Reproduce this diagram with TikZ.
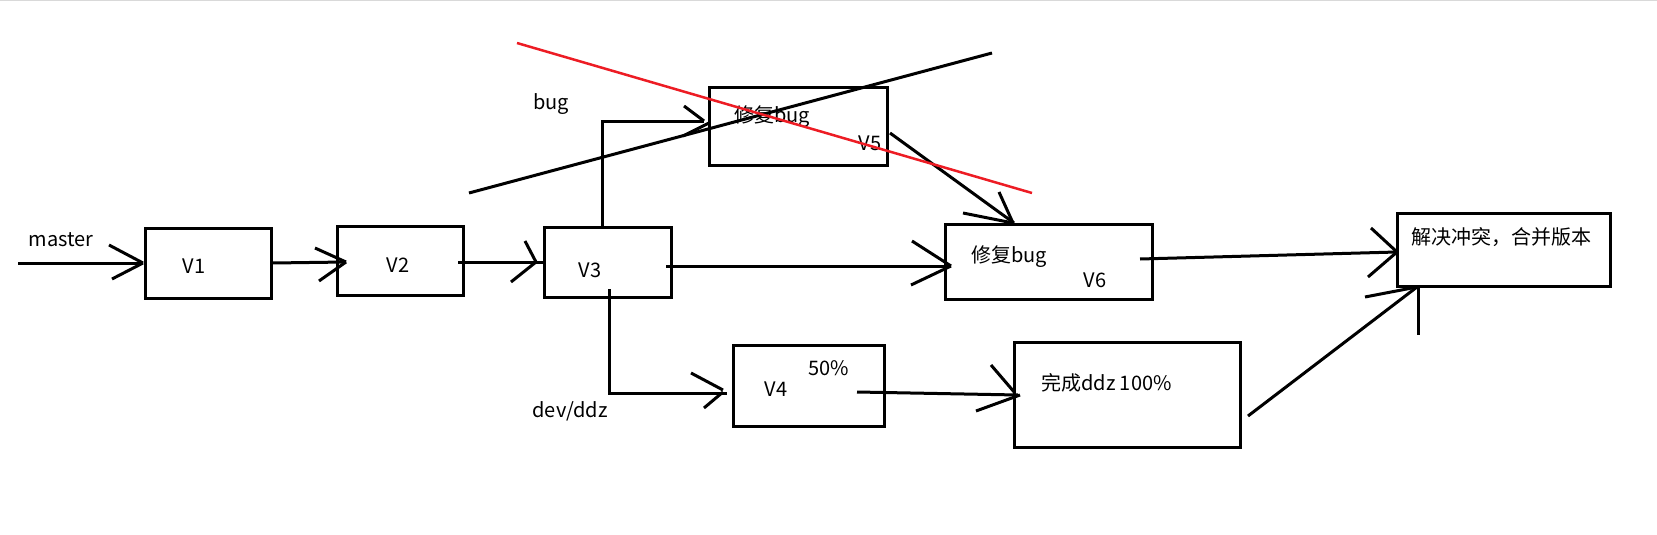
\documentclass[tikz,border=0pt]{standalone}
\usepackage{fontspec}
\setmainfont{Noto Sans CJK SC}
\begin{document}
\begin{tikzpicture}[x=1pt,y=-1pt,
  box/.style={draw, line width=3pt, inner sep=0pt},
  ln/.style={line width=3pt},
  txt/.style={inner sep=0pt, font=\fontsize{20}{24}\selectfont}]
\useasboundingbox (0,0) rectangle (1657,535);
\fill[white] (0,0) rectangle (1657,535);
\draw[line width=1.5pt, black!15] (0,0.75) -- (1657,0.75);

% boxes
\node[box, minimum width=126pt, minimum height=70pt] (v1) at (208,263) {};
\node[box, minimum width=126pt, minimum height=69pt] (v2) at (400,260.5) {};
\node[box, minimum width=127pt, minimum height=70pt] (v3) at (607.5,262) {};
\node[box, minimum width=178pt, minimum height=78pt] (v5) at (798,126) {};
\node[box, minimum width=207pt, minimum height=75pt] (v6) at (1048.5,261.5) {};
\node[box, minimum width=151pt, minimum height=81pt] (v4) at (808.5,385.5) {};
\node[box, minimum width=226pt, minimum height=105pt] (done) at (1127,394.5) {};
\node[box, minimum width=213pt, minimum height=73pt] (merge) at (1503.5,249.5) {};

% texts
\node[txt] (tmaster) at (61,240) {master};
\node[txt] (tv1) at (194,266) {V1};
\node[txt] (tv2) at (398,265) {V2};
\node[txt] (tv3) at (590,270) {V3};
\node[txt] (tbug) at (551,104) {bug};
\node[txt, anchor=west] (tfix5) at (734,117) {修复bug};
\node[txt] (tv5) at (870,143) {V5};
\node[txt, anchor=west] (tfix6) at (971,257) {修复bug};
\node[txt] (tv6) at (1095,280) {V6};
\node[txt] (tv4) at (776,389) {V4};
\node[txt] (t50) at (829,368) {50\%};
\node[txt] (tdev) at (570,411) {dev/ddz};
\node[txt, anchor=west] (tdone) at (1041,383) {完成ddz 100\%};
\node[txt, anchor=west] (tmerge) at (1411,237) {解决冲突，合并版本};

% connector tips
\coordinate (s0) at (18,263);
\coordinate (a1) at (143,263);
\coordinate (a2) at (346,262);
\coordinate (a3) at (536,262);
\coordinate (a5) at (704,121);
\coordinate (a6) at (951,266);
\coordinate (a4) at (723,392);
\coordinate (a7) at (1013,223);
\coordinate (a8) at (1018,395);
\coordinate (a9) at (1397,252);
\coordinate (a10) at (1417,287);

% master -> V1
\draw[ln] (s0) -- (a1);
\draw[ln] (109,245) -- (a1) (112,279) -- (a1);
% V1 -> V2
\draw[ln] (v1.east) -- (a2);
\draw[ln] (315,248) -- (a2) (319,281) -- (a2);
% V2 -> V3
\draw[ln] (458,262) -- (545,262);
\draw[ln] (525,241) -- (a3) (511,282) -- (a3);
% V3 -> V5 (bug branch)
\draw[ln] (602,227) -- (602,121) -- (a5);
\draw[ln] (684,106) -- (a5) (683,136) -- (709,123);
% V3 -> V6
\draw[ln] (666,266) -- (a6);
\draw[ln] (912,241) -- (a6) (911,285) -- (a6);
% V3 -> V4 (dev/ddz branch)
\draw[ln] (609,289) -- (609,393) -- (727,393);
\draw[ln] (691,373) -- (723,390) (704,408) -- (a4);
% V5 -> V6
\draw[ln] (890,133) -- (1014,223);
\draw[ln] (999,192) -- (a7) (963,213) -- (a7);
% V4 -> done
\draw[ln] (857,392) -- (a8);
\draw[ln] (991,365) -- (1015,393) (976,411) -- (1020,395);
% V6 -> merge
\draw[ln] (1140,259) -- (a9);
\draw[ln] (1371,228) -- (a9) (1368,277) -- (a9);
% done -> merge
\draw[ln] (1248,416) -- (a10);
\draw[ln] (1365,297) -- (a10);
\draw[ln] (1418,287) -- (1418,335);

% cross-out lines
\draw[ln] (469,193) -- (992,53);
\definecolor{paintred}{RGB}{237,28,36}
\draw[line width=2.5pt, paintred] (517,43) -- (1032,193);
\end{tikzpicture}
\end{document}
